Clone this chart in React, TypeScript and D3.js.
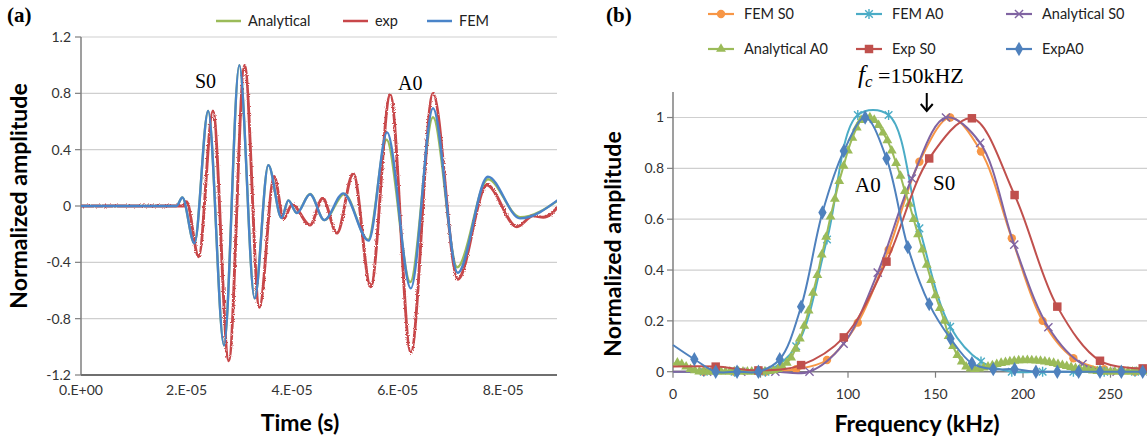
import React from 'react';
import * as d3 from 'd3';

const W = 1147;
const H = 445;
const SANS = "Lato, 'Open Sans', sans-serif";
const SERIF = "'Liberation Serif', 'DejaVu Serif', serif";

// ---------- panel (a): time signals, time in microseconds ----------
const timeTicks = [0, 20, 40, 60, 80];
const timeTickLabels = ['0.E+00', '2.E-05', '4.E-05', '6.E-05', '8.E-05'];
const ampTicksA = [-1.2, -0.8, -0.4, 0, 0.4, 0.8, 1.2];

const femT = [0, 18.1, 19.2, 21.5, 24.1, 27.1, 30.0, 32.9, 35.5, 38.0, 39.3, 40.9, 43.4, 46.1, 49.7, 54.5, 58.0, 62.5, 66.7, 71.4, 77.1, 83.2, 90.8];
const femA = [0, 0, 0.06, -0.265, 0.675, -0.99, 1.0, -0.656, 0.29, -0.085, 0.04, -0.05, 0.083, -0.1, 0.09, -0.246, 0.523, -0.585, 0.694, -0.474, 0.208, -0.088, 0.055];

const anT = [0, 18.1, 19.2, 21.5, 24.1, 27.1, 30.0, 32.9, 35.5, 38.0, 39.3, 40.9, 43.4, 46.1, 49.9, 54.4, 57.9, 62.4, 66.7, 71.3, 77.1, 83.2, 90.8];
const anA = [0, 0, 0.06, -0.265, 0.675, -0.99, 1.0, -0.656, 0.29, -0.085, 0.04, -0.05, 0.085, -0.1, 0.085, -0.24, 0.47, -0.54, 0.63, -0.435, 0.19, -0.08, 0.05];

const expT = [0, 19.4, 20.0, 22.3, 25.0, 28.0, 31.0, 33.8, 36.6, 38.4, 40.0, 43.4, 45.8, 48.5, 51.6, 54.9, 58.6, 62.5, 66.7, 71.4, 76.9, 82.6, 85.7, 87.6, 90.8];
const expA = [0, 0, 0.03, -0.36, 0.675, -1.1, 1.0, -0.72, 0.21, -0.09, 0.01, -0.135, 0.055, -0.194, 0.232, -0.573, 0.79, -1.04, 0.8, -0.52, 0.149, -0.147, -0.07, -0.08, 0.01];

// ---------- panel (b): spectra, frequency in kHz ----------
const freqTicks = [0, 50, 100, 150, 200, 250];
const ampTicksB = [0, 0.2, 0.4, 0.6, 0.8, 1];
const ampTickLabelsB = ['0', '0.2', '0.4', '0.6', '0.8', '1'];

const femF = [0, 17.6, 35.2, 52.8, 70.4, 88, 105.6, 123.2, 140.8, 158.4, 176, 193.6, 211.2, 228.8, 246.4, 264];
const femS0 = [0, 0, 0, 0, 0.01, 0.046, 0.193, 0.48, 0.826, 1.0, 0.866, 0.525, 0.2, 0.053, 0.01, 0];
const femA0 = [0, 0, 0, 0, 0.1, 0.52, 1.01, 1.01, 0.564, 0.177, 0.04, 0, 0, 0, 0, 0];

const anS0F = [0, 19.5, 39, 58.5, 78, 97.5, 117, 136.5, 156, 175.5, 195, 214.5, 234, 253.5, 273];
const anS0 = [0, 0, 0, 0, 0, 0.11, 0.39, 0.76, 1.0, 0.9, 0.5, 0.175, 0.03, 0, 0];

const anA0F = [0, 2.5, 5, 7.5, 10, 12.5, 15, 17.5, 20, 22.5, 25, 27.5, 30, 32.5, 35, 37.5, 40, 42.5, 45, 47.5, 50, 52.5, 55, 57.5, 60, 62.5, 65, 67.5, 70, 72.5, 75, 77.5, 80, 82.5, 85, 87.5, 90, 92.5, 95, 97.5, 100, 102.5, 105, 107.5, 110, 112.5, 115, 117.5, 120, 122.5, 125, 127.5, 130, 132.5, 135, 137.5, 140, 142.5, 145, 147.5, 150, 152.5, 155, 157.5, 160, 162.5, 165, 167.5, 170, 172.5, 175, 177.5, 180, 182.5, 185, 187.5, 190, 192.5, 195, 197.5, 200, 202.5, 205, 207.5, 210, 212.5, 215, 217.5, 220, 222.5, 225, 227.5, 230, 232.5, 235, 237.5, 240, 242.5, 245, 247.5, 250, 252.5, 255, 257.5, 260, 262.5, 265, 267.5, 270];
const anA0 = [0.03, 0.035, 0.03, 0.02, 0.01, 0.005, 0, 0, 0, 0, 0, 0, 0, 0, 0, 0, 0, 0, 0, 0, 0, 0, 0.002, 0.005, 0.01, 0.02, 0.035, 0.055, 0.09, 0.13, 0.18, 0.24, 0.31, 0.38, 0.46, 0.53, 0.61, 0.68, 0.75, 0.81, 0.87, 0.92, 0.96, 0.99, 1.0, 1.0, 0.99, 0.97, 0.94, 0.91, 0.87, 0.82, 0.77, 0.71, 0.66, 0.6, 0.54, 0.48, 0.42, 0.36, 0.3, 0.25, 0.2, 0.14, 0.1, 0.065, 0.04, 0.02, 0.012, 0.01, 0.012, 0.016, 0.02, 0.025, 0.03, 0.034, 0.037, 0.04, 0.042, 0.044, 0.044, 0.045, 0.044, 0.043, 0.042, 0.04, 0.037, 0.034, 0.03, 0.026, 0.022, 0.018, 0.014, 0.011, 0.008, 0.006, 0.004, 0.002, 0, 0, 0, 0, 0, 0, 0, 0, 0, 0, 0];

const expS0F = [0, 24.4, 48.8, 73.2, 97.6, 122, 146.4, 170.8, 195.2, 219.6, 244, 268.4];
const expS0 = [0.02, 0.02, 0.005, 0.026, 0.135, 0.433, 0.839, 0.997, 0.695, 0.256, 0.043, 0.013];

const expA0F = [0, 12.2, 24.4, 36.6, 48.8, 61, 73.2, 85.4, 97.6, 109.8, 122, 134.2, 146.4, 158.6, 170.8, 183, 195.2, 207.4, 219.6, 231.8, 244, 256.2, 268.4];
const expA0 = [0.105, 0.049, 0, 0, 0, 0.049, 0.256, 0.626, 0.868, 1.0, 0.839, 0.49, 0.266, 0.13, 0.033, 0.01, 0.01, 0, 0, 0, 0, 0, 0];

const zip = (x: number[], y: number[]) => x.map((v, i) => [v, y[i]] as [number, number]);

const markerPath = (type: string) => {
  if (type === 'circle') return d3.symbol(d3.symbolCircle, 55)();
  if (type === 'square') return d3.symbol(d3.symbolSquare, 72)();
  if (type === 'diamond') return d3.symbol(d3.symbolDiamond, 60)();
  if (type === 'triangle') return d3.symbol(d3.symbolTriangle, 42)();
  if (type === 'x') return d3.symbol(d3.symbolX, 45)();
  return 'M-3.8,-3.8L3.8,3.8M-3.8,3.8L3.8,-3.8M0,-5L0,5';
};

const Marker = ({ type, color, x, y }: { type: string; color: string; x: number; y: number }) => {
  const stroked = type === 'x' || type === 'star';
  return (
    <path
      d={markerPath(type) as string}
      transform={`translate(${x},${y})`}
      fill={stroked ? 'none' : color}
      stroke={stroked ? color : 'none'}
      strokeWidth={stroked ? 1.4 : 0}
    />
  );
};

export default function App() {
  // panel (a)
  const xA = d3.scaleLinear().domain([0, 90.2]).range([81, 557]);
  const yA = d3.scaleLinear().domain([-1.2, 1.2]).range([375, 37]);
  const lineA = d3.line<[number, number]>().x(d => xA(d[0])).y(d => yA(d[1])).curve(d3.curveMonotoneX);

  const seriesA = [
    { name: 'Analytical', color: '#9BBB59', data: zip(anT, anA) },
    { name: 'exp', color: '#C8474A', data: zip(expT, expA) },
    { name: 'FEM', color: '#4A84C9', data: zip(femT, femA) },
  ];
  const legendA = [
    { name: 'Analytical', color: '#9BBB59', x: 216 },
    { name: 'exp', color: '#C8474A', x: 343 },
    { name: 'FEM', color: '#4A84C9', x: 427 },
  ];

  // panel (b)
  const xB = d3.scaleLinear().domain([0, 280]).range([673, 673 + 280 * 1.75]);
  const yB = d3.scaleLinear().domain([0, 1.1]).range([371.7, 92.1]);
  const lineB = d3.line<[number, number]>().x(d => xB(d[0])).y(d => yB(d[1])).curve(d3.curveCatmullRom);

  const seriesB = [
    { name: 'FEM S0', color: '#F79646', marker: 'circle', data: zip(femF, femS0) },
    { name: 'FEM A0', color: '#4BACC6', marker: 'star', data: zip(femF, femA0) },
    { name: 'Analytical S0', color: '#8064A2', marker: 'x', data: zip(anS0F, anS0) },
    { name: 'Analytical A0', color: '#9BBB59', marker: 'triangle', data: zip(anA0F, anA0) },
    { name: 'Exp S0', color: '#C0504D', marker: 'square', data: zip(expS0F, expS0) },
    { name: 'ExpA0', color: '#4F81BD', marker: 'diamond', data: zip(expA0F, expA0) },
  ];
  const legendCols = [708, 856, 1006];
  const legendRows = [14, 49];

  return (
    <svg width={W} height={H} style={{ position: 'absolute', left: 0, top: 0, background: '#fff' }}>
      <defs>
        <clipPath id="clipA">
          <rect x={81} y={30} width={476} height={352} />
        </clipPath>
        <filter id="noisy" x="-5%" y="-10%" width="110%" height="120%">
          <feTurbulence type="fractalNoise" baseFrequency="0.9" numOctaves={1} seed={4} result="n" />
          <feDisplacementMap in="SourceGraphic" in2="n" scale={3} xChannelSelector="R" yChannelSelector="G" />
        </filter>
      </defs>

      {/* ===== (a) ===== */}
      <text x={7} y={22} fontFamily={SERIF} fontWeight="bold" fontSize={21}>(a)</text>

      {ampTicksA.slice(1).map(t => (
        <line key={t} x1={81} x2={557} y1={yA(t)} y2={yA(t)} stroke="#cfcfcf" strokeWidth={1.2} />
      ))}
      {ampTicksA.map(t => (
        <g key={t}>
          <line x1={75} x2={81} y1={yA(t)} y2={yA(t)} stroke="#7f7f7f" strokeWidth={1.2} />
          <text x={71} y={yA(t)} dy="0.35em" textAnchor="end" fontFamily={SANS} fontSize={14} fill="#333">{t === 0 ? '0' : String(t)}</text>
        </g>
      ))}
      <line x1={81} x2={81} y1={yA(1.2)} y2={yA(-1.2)} stroke="#7f7f7f" strokeWidth={1.5} />
      <line x1={81} x2={557} y1={yA(-1.2)} y2={yA(-1.2)} stroke="#6f6f6f" strokeWidth={1.8} />
      {timeTicks.map((t, i) => (
        <text key={t} x={xA(t)} y={395} textAnchor="middle" fontFamily={SANS} fontSize={14} fill="#333">{timeTickLabels[i]}</text>
      ))}

      <g clipPath="url(#clipA)" fill="none">
        {seriesA.map(s => (
          <path key={s.name} d={lineA(s.data) as string} stroke={s.color}
            strokeWidth={s.name === 'exp' ? 2.9 : 2.4} strokeLinejoin="round"
            filter={s.name === 'exp' ? 'url(#noisy)' : undefined} />
        ))}
      </g>

      {legendA.map(l => (
        <g key={l.name}>
          <line x1={l.x} x2={l.x + 25} y1={21} y2={21} stroke={l.color} strokeWidth={2.5} />
          <text x={l.x + 32} y={26} fontFamily={SANS} fontSize={14.5} fill="#222">{l.name}</text>
        </g>
      ))}

      <text x={195} y={88} fontFamily={SERIF} fontSize={20}>S0</text>
      <text x={398} y={90} fontFamily={SERIF} fontSize={20}>A0</text>

      <text transform="translate(27,196) rotate(-90)" textAnchor="middle" fontFamily={SANS} fontWeight="bold" fontSize={23}>Normalized amplitude</text>
      <text x={300} y={431} textAnchor="middle" fontFamily={SANS} fontWeight="bold" fontSize={23}>Time (s)</text>

      {/* ===== (b) ===== */}
      <text x={606} y={22} fontFamily={SERIF} fontWeight="bold" fontSize={21}>(b)</text>

      {ampTicksB.slice(1).map(t => (
        <line key={t} x1={673} x2={W} y1={yB(t)} y2={yB(t)} stroke="#cfcfcf" strokeWidth={1.2} />
      ))}
      {ampTicksB.map((t, i) => (
        <g key={t}>
          <line x1={667} x2={673} y1={yB(t)} y2={yB(t)} stroke="#7f7f7f" strokeWidth={1.2} />
          <text x={664} y={yB(t)} dy="0.35em" textAnchor="end" fontFamily={SANS} fontSize={14} fill="#333">{ampTickLabelsB[i]}</text>
        </g>
      ))}
      <line x1={673} x2={673} y1={yB(1.1)} y2={yB(0)} stroke="#7f7f7f" strokeWidth={1.5} />
      <line x1={673} x2={W} y1={yB(0)} y2={yB(0)} stroke="#7f7f7f" strokeWidth={1.5} />
      {freqTicks.map(f => (
        <g key={f}>
          <line x1={xB(f)} x2={xB(f)} y1={yB(0)} y2={yB(0) + 6} stroke="#7f7f7f" strokeWidth={1.2} />
          <text x={xB(f)} y={399} textAnchor="middle" fontFamily={SANS} fontSize={14} fill="#333">{f}</text>
        </g>
      ))}

      {seriesB.map(s => (
        <g key={s.name}>
          <path d={lineB(s.data) as string} fill="none" stroke={s.color} strokeWidth={2} />
          {s.data.filter(d => d[0] > 0).map((d, i) => (
            <Marker key={i} type={s.marker} color={s.color} x={xB(d[0])} y={yB(d[1])} />
          ))}
        </g>
      ))}

      {seriesB.map((s, i) => {
        const lx = legendCols[i % 3];
        const ly = legendRows[Math.floor(i / 3)];
        return (
          <g key={s.name}>
            <line x1={lx} x2={lx + 26} y1={ly} y2={ly} stroke={s.color} strokeWidth={2.2} />
            <Marker type={s.marker} color={s.color} x={lx + 13} y={ly} />
            <text x={lx + 36} y={ly + 5} fontFamily={SANS} fontSize={14.5} fill="#222">{s.name}</text>
          </g>
        );
      })}

      <text x={858} y={83} fontFamily={SERIF} fontSize={22}>
        <tspan fontStyle="italic" fontSize={25}>f</tspan>
        <tspan fontStyle="italic" fontSize={17} dy={4}>c</tspan>
        <tspan dy={-4}> =150kHZ</tspan>
      </text>
      <line x1={xB(145)} x2={xB(145)} y1={93} y2={111} stroke="#000" strokeWidth={2} />
      <polyline points={`${xB(145) - 6},104 ${xB(145)},111 ${xB(145) + 6},104`} fill="none" stroke="#000" strokeWidth={2} />

      <text x={855} y={192} fontFamily={SERIF} fontSize={21}>A0</text>
      <text x={933} y={190} fontFamily={SERIF} fontSize={21}>S0</text>

      <text transform="translate(621,244) rotate(-90)" textAnchor="middle" fontFamily={SANS} fontWeight="bold" fontSize={23}>Normalized amplitude</text>
      <text x={917} y={432} textAnchor="middle" fontFamily={SANS} fontWeight="bold" fontSize={23}>Frequency (kHz)</text>
    </svg>
  );
}
